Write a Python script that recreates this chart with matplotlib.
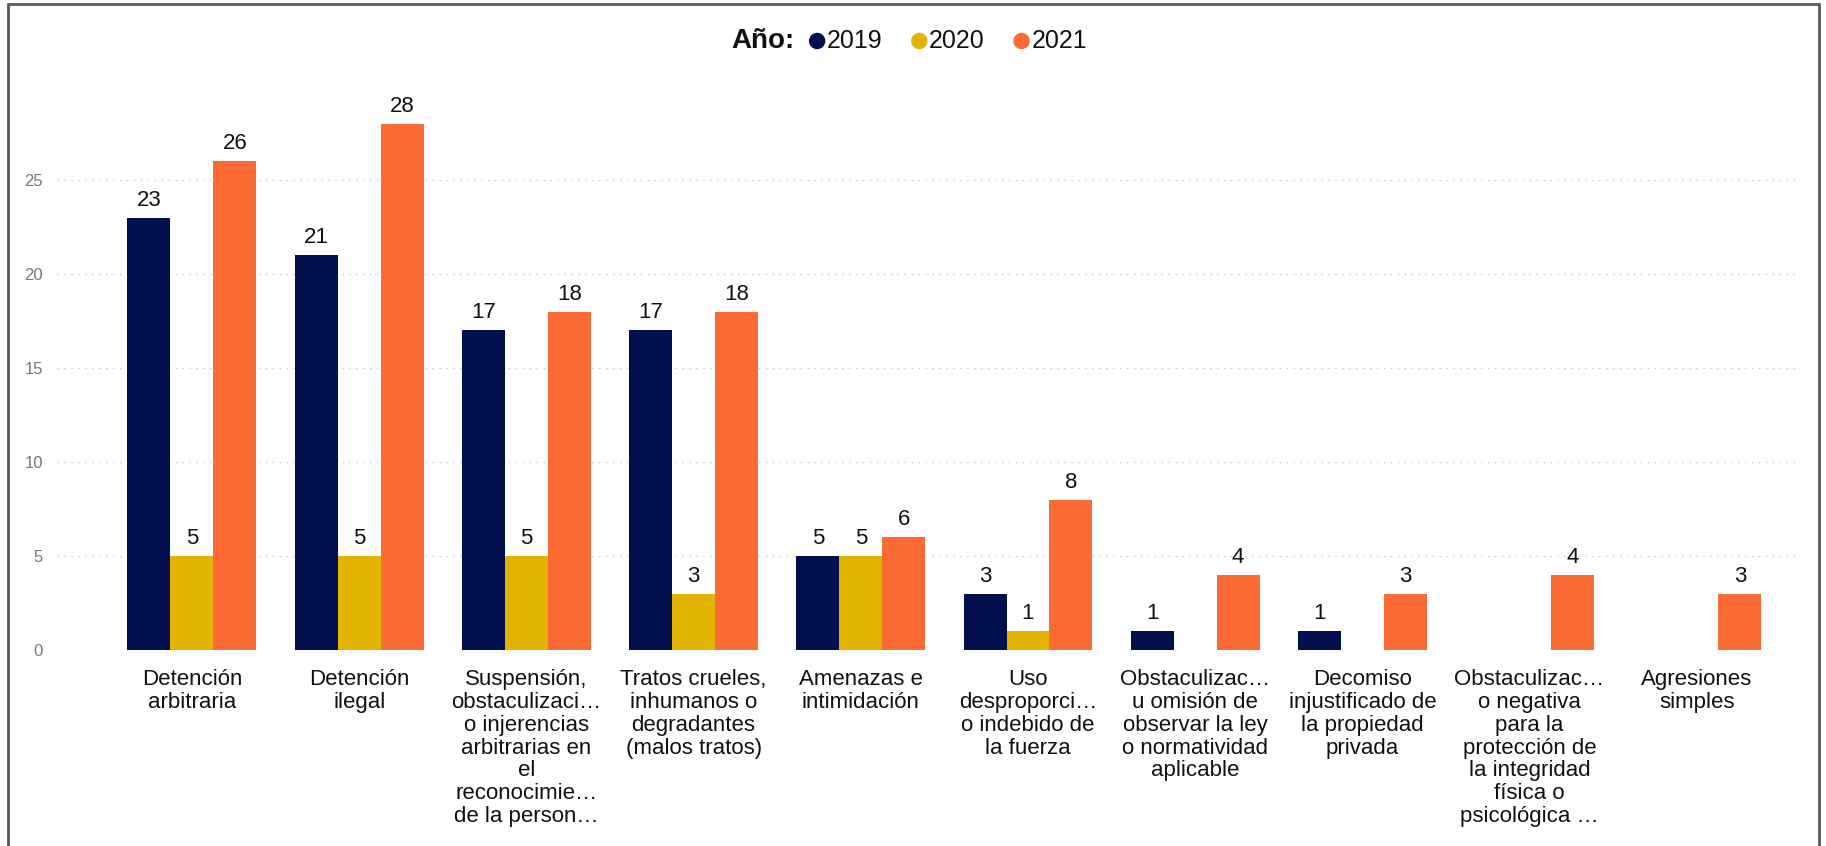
import matplotlib.pyplot as plt
from matplotlib.offsetbox import AnchoredOffsetbox, DrawingArea, HPacker, TextArea
from matplotlib.patches import Circle, Rectangle
import numpy as np

plt.rcParams['font.family'] = ['Liberation Sans', 'DejaVu Sans']

categories = [
    'Detención\narbitraria',
    'Detención\nilegal',
    'Suspensión,\nobstaculizaci…\no injerencias\narbitrarias en\nel\nreconocimie…\nde la person…',
    'Tratos crueles,\ninhumanos o\ndegradantes\n(malos tratos)',
    'Amenazas e\nintimidación',
    'Uso\ndesproporci…\no indebido de\nla fuerza',
    'Obstaculizac…\nu omisión de\nobservar la ley\no normatividad\naplicable',
    'Decomiso\ninjustificado de\nla propiedad\nprivada',
    'Obstaculizac…\no negativa\npara la\nprotección de\nla integridad\nfísica o\npsicológica …',
    'Agresiones\nsimples',
]
years = ['2019', '2020', '2021']
v2019 = [23, 21, 17, 17, 5, 3, 1, 1, None, None]
v2020 = [5, 5, 5, 3, 5, 1, None, None, None, None]
v2021 = [26, 28, 18, 18, 6, 8, 4, 3, 4, 3]
colors = ['#020F4F', '#E2B300', '#FB6B33']

W, H = 1826, 846
fig = plt.figure(figsize=(W / 100, H / 100), dpi=100)
ax = fig.add_axes([57 / W, 1 - 650 / H, (1800 - 57) / W, 564 / H])

x = np.arange(len(categories))
w = 0.257
for i, (vals, c) in enumerate(zip([v2019, v2020, v2021], colors)):
    xs = [xi + (i - 1) * w for xi, v in zip(x, vals) if v is not None]
    ys = [v for v in vals if v is not None]
    bars = ax.bar(xs, ys, width=w, color=c, zorder=3)
    for b, v in zip(bars, ys):
        ax.annotate(str(v), (b.get_x() + b.get_width() / 2, v),
                    xytext=(0, 5), textcoords='offset points',
                    ha='center', va='bottom', fontsize=16, color='#111111')

ax.set_xlim(-0.807, 9.617)
ax.set_ylim(0, 30)
ax.set_yticks([0, 5, 10, 15, 20, 25])
ax.tick_params(axis='y', length=0, pad=10, labelsize=12, labelcolor='#777777')
ax.set_xticks(x)
ax.set_xticklabels(categories, fontsize=16, linespacing=1.11, color='#111111')
ax.tick_params(axis='x', length=0, pad=14)
ax.grid(axis='y', color='#C8C8C8', linestyle=(0, (1, 4)), linewidth=1, zorder=0)
for s in ax.spines.values():
    s.set_visible(False)


def gap(pts):
    return DrawingArea(pts, 1, 0, 0)


# legend row: "Año:" then circle + year for each series, centred on top
items = [TextArea('Año:', textprops=dict(fontsize=20, fontweight='bold', color='#111111'))]
for k, (yr, c) in enumerate(zip(years, colors)):
    items.append(gap(11 if k == 0 else 21))
    da = DrawingArea(11, 11, 0, 0)
    da.add_artist(Circle((5.5, 5.5), 5.4, color=c))
    items.append(da)
    items.append(gap(1.5))
    items.append(TextArea(yr, textprops=dict(fontsize=18, color='#111111')))
row = HPacker(children=items, align='center', pad=0, sep=0)
box = AnchoredOffsetbox(loc='center', child=row, frameon=False, pad=0, borderpad=0,
                        bbox_to_anchor=(909 / W, 1 - 41 / H), bbox_transform=fig.transFigure)
fig.add_artist(box)

fig.patches.append(Rectangle((8 / W, -0.01), (1819 - 8) / W, 1.01 - 4 / H,
                             transform=fig.transFigure, fill=False,
                             edgecolor='#5A5A5A', linewidth=2))

fig.savefig('out.png', dpi=100)
